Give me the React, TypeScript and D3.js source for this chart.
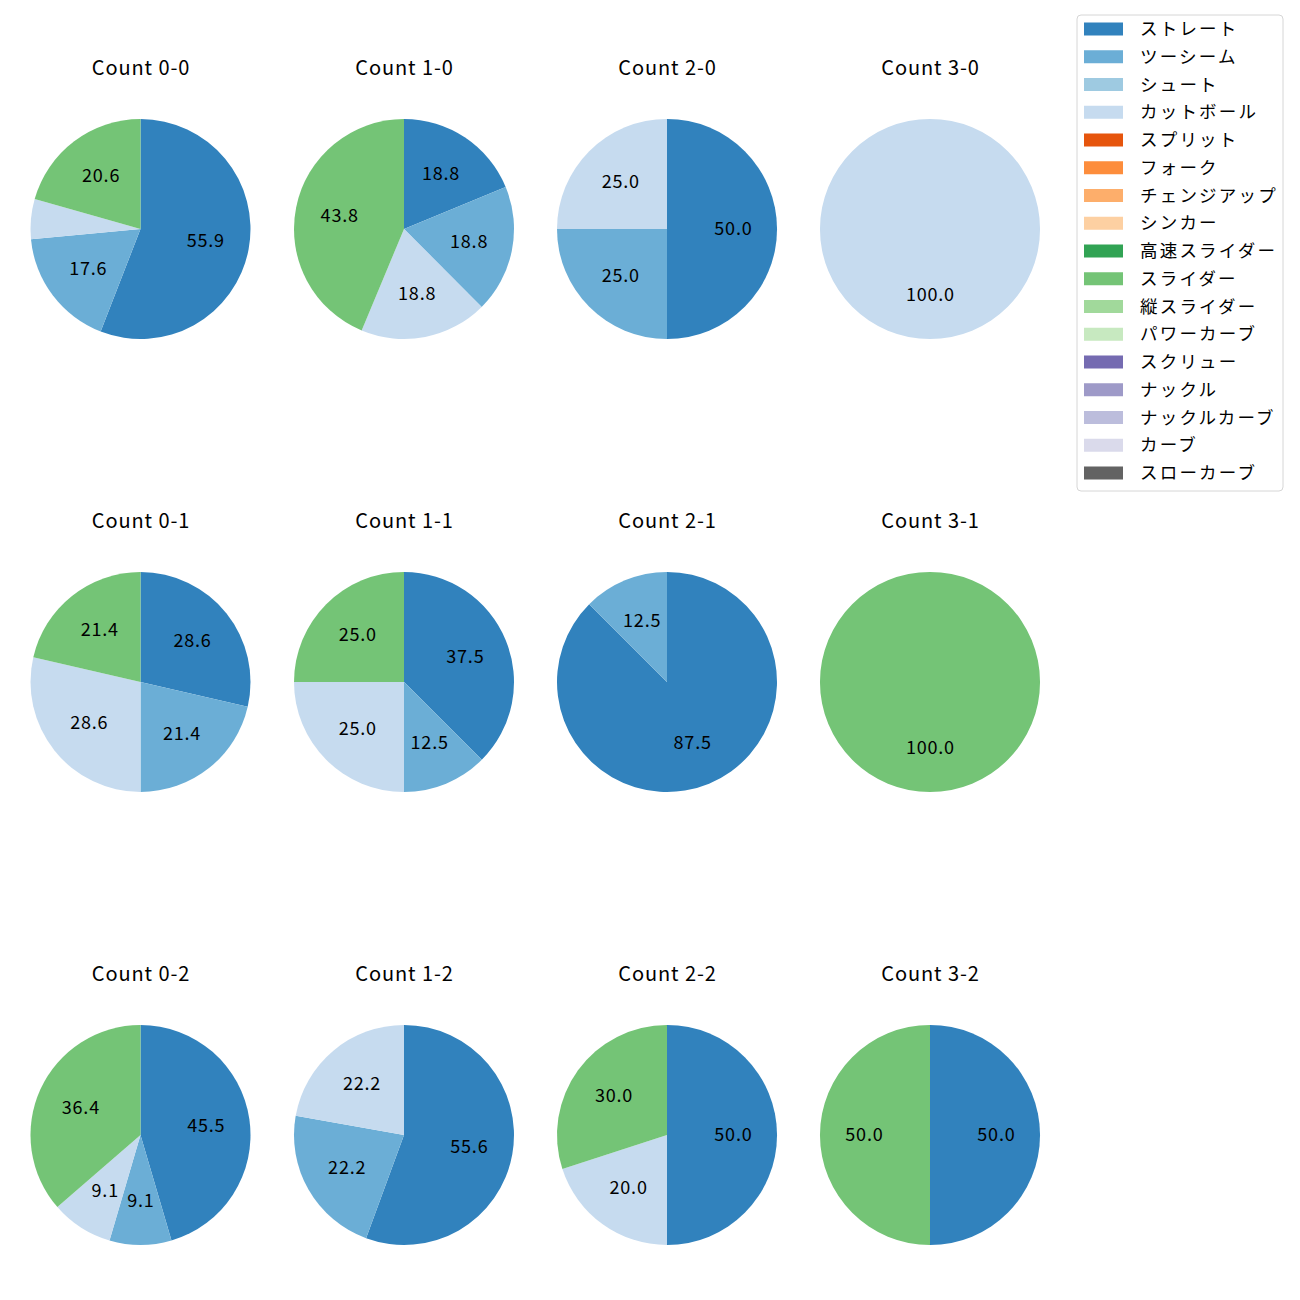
import React from 'react';
import * as d3 from 'd3';

const pitchTypes = [
  'ストレート', 'ツーシーム', 'シュート', 'カットボール', 'スプリット', 'フォーク',
  'チェンジアップ', 'シンカー', '高速スライダー', 'スライダー', '縦スライダー', 'パワーカーブ',
  'スクリュー', 'ナックル', 'ナックルカーブ', 'カーブ', 'スローカーブ',
];

const pitchColors = [
  '#3182bd', '#6baed6', '#9ecae1', '#c6dbef', '#e6550d', '#fd8d3c',
  '#fdae6b', '#fdd0a2', '#31a354', '#74c476', '#a1d99b', '#c7e9c0',
  '#756bb1', '#9e9ac8', '#bcbddc', '#dadaeb', '#636363',
];

// balls-strikes, in grid order (row = strikes, col = balls)
const counts = ['0-0', '1-0', '2-0', '3-0', '0-1', '1-1', '2-1', '3-1', '0-2', '1-2', '2-2', '3-2'];

// share (%) per pitch type
const shares: Record<string, Record<string, number>> = {
  '0-0': { 'ストレート': 55.9, 'ツーシーム': 17.6, 'カットボール': 5.9, 'スライダー': 20.6 },
  '1-0': { 'ストレート': 18.8, 'ツーシーム': 18.8, 'カットボール': 18.8, 'スライダー': 43.8 },
  '2-0': { 'ストレート': 50.0, 'ツーシーム': 25.0, 'カットボール': 25.0 },
  '3-0': { 'カットボール': 100.0 },
  '0-1': { 'ストレート': 28.6, 'ツーシーム': 21.4, 'カットボール': 28.6, 'スライダー': 21.4 },
  '1-1': { 'ストレート': 37.5, 'ツーシーム': 12.5, 'カットボール': 25.0, 'スライダー': 25.0 },
  '2-1': { 'ストレート': 87.5, 'ツーシーム': 12.5 },
  '3-1': { 'スライダー': 100.0 },
  '0-2': { 'ストレート': 45.5, 'ツーシーム': 9.1, 'カットボール': 9.1, 'スライダー': 36.4 },
  '1-2': { 'ストレート': 55.6, 'ツーシーム': 22.2, 'カットボール': 22.2 },
  '2-2': { 'ストレート': 50.0, 'カットボール': 20.0, 'スライダー': 30.0 },
  '3-2': { 'ストレート': 50.0, 'スライダー': 50.0 },
};

const FONT = '"Noto Sans CJK JP", "Noto Sans", sans-serif';
const MIN_LABEL = 7; // smaller slices get no label

const colX = [140.5, 404, 667, 930];
const rowY = [229, 682, 1135];
const R = 110;

const color = d3.scaleOrdinal<string, string>().domain(pitchTypes).range(pitchColors);

type Slice = { name: string; value: number };

const pie = d3.pie<Slice>()
  .value(d => d.value)
  .sort(null)
  .startAngle(0)
  .endAngle(2 * Math.PI);

const arc = d3.arc<d3.PieArcDatum<Slice>>().innerRadius(0).outerRadius(R);
const labelArc = d3.arc<d3.PieArcDatum<Slice>>().innerRadius(R * 0.6).outerRadius(R * 0.6);

const PieCell: React.FC<{ count: string; cx: number; cy: number }> = ({ count, cx, cy }) => {
  const data: Slice[] = pitchTypes
    .filter(p => shares[count][p] !== undefined)
    .map(p => ({ name: p, value: shares[count][p] }));
  const arcs = pie(data);
  return (
    <g transform={`translate(${cx},${cy})`}>
      <text x={0.5} y={-162.5} textAnchor="middle" dominantBaseline="central" fontSize={20} letterSpacing={0.9} fill="#000">
        {`Count ${count}`}
      </text>
      {arcs.map(a => (
        <path key={a.data.name} d={arc(a) || ''} fill={color(a.data.name)} />
      ))}
      {arcs.filter(a => a.data.value >= MIN_LABEL).map(a => {
        const [lx, ly] = a.data.value >= 100 ? [0, R * 0.6] : labelArc.centroid(a);
        return (
          <text key={a.data.name + 'l'} x={lx + 0.4} y={ly - 2} textAnchor="middle" dominantBaseline="central" fontSize={18} letterSpacing={0.8} fill="#000">
            {a.data.value.toFixed(1)}
          </text>
        );
      })}
    </g>
  );
};

const Legend: React.FC = () => {
  const x0 = 1077;
  const y0 = 15;
  const step = 27.75;
  return (
    <g>
      <rect x={x0} y={y0} width={206} height={476} rx={4} fill="#fff" stroke="#d6d6d6" strokeWidth={1} />
      {pitchTypes.map((p, i) => {
        const y = 29 + i * step;
        return (
          <g key={p}>
            <rect x={1084} y={y - 6.5} width={39} height={13} fill={color(p)} />
            <text x={1140} y={y - 1.5} dominantBaseline="central" fontSize={17.5} letterSpacing={2.2} fill="#000">{p}</text>
          </g>
        );
      })}
    </g>
  );
};

export default function App() {
  return (
    <div style={{ position: 'absolute', left: 0, top: 0, width: 1300, height: 1300, background: '#fff' }}>
      <svg width={1300} height={1300} style={{ display: 'block', fontFamily: FONT }}>
        <rect width={1300} height={1300} fill="#fff" />
        {counts.map((c, i) => (
          <PieCell key={c} count={c} cx={colX[i % 4]} cy={rowY[Math.floor(i / 4)]} />
        ))}
        <Legend />
      </svg>
    </div>
  );
}
